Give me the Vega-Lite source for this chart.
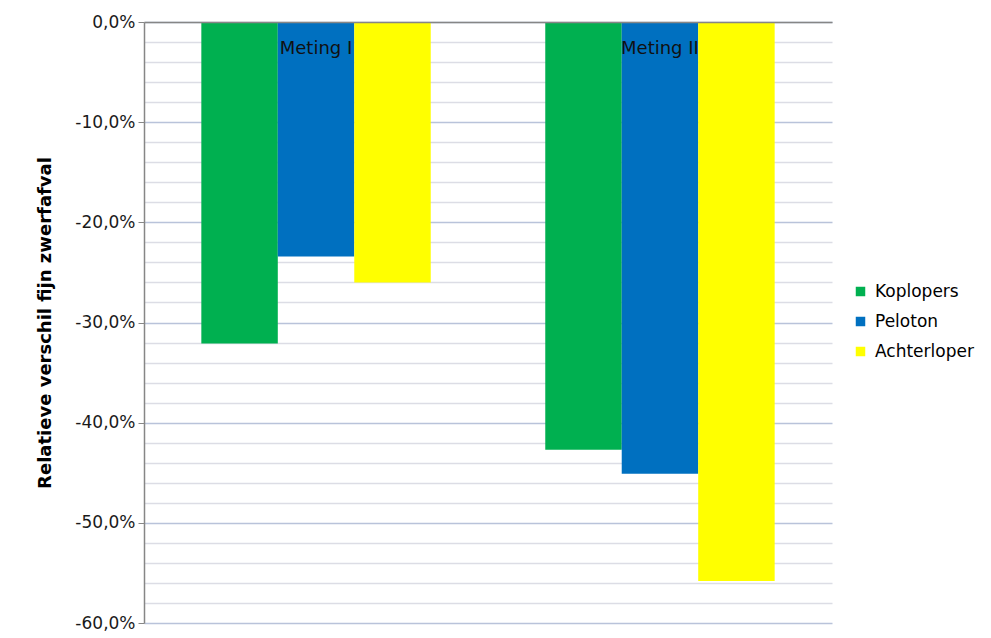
{
  "$schema": "https://vega.github.io/schema/vega-lite/v6.json",
  "width": 688,
  "height": 601,
  "autosize": {"type": "none"},
  "padding": {"left": 144, "top": 22, "right": 159, "bottom": 15},
  "background": "white",
  "config": {
    "locale": {"number": {"decimal": ",", "thousands": ".", "grouping": [3], "currency": ["€", ""], "minus": "-"}},
    "view": {"stroke": null},
    "font": "DejaVu Sans"
  },
  "data": {
    "values": [
      {"meting": "Meting I", "groep": "Koplopers", "waarde": -0.321},
      {"meting": "Meting I", "groep": "Peloton", "waarde": -0.234},
      {"meting": "Meting I", "groep": "Achterloper", "waarde": -0.260},
      {"meting": "Meting II", "groep": "Koplopers", "waarde": -0.427},
      {"meting": "Meting II", "groep": "Peloton", "waarde": -0.451},
      {"meting": "Meting II", "groep": "Achterloper", "waarde": -0.558}
    ]
  },
  "mark": {"type": "bar"},
  "encoding": {
    "x": {
      "field": "meting",
      "type": "nominal",
      "sort": ["Meting I", "Meting II"],
      "scale": {"paddingInner": 0.333, "paddingOuter": 0.1667},
      "axis": {
        "orient": "top",
        "title": null,
        "ticks": false,
        "tickSize": 0,
        "labelAngle": 0,
        "labelBaseline": "alphabetic",
        "labelPadding": -31,
        "labelFontSize": 18,
        "labelColor": "#111111",
        "domainColor": "#868686",
        "domainWidth": 1.5,
        "zindex": 1
      }
    },
    "xOffset": {"field": "groep", "type": "nominal", "sort": ["Koplopers", "Peloton", "Achterloper"]},
    "y": {
      "field": "waarde",
      "type": "quantitative",
      "scale": {"domain": [-0.6, 0], "nice": false, "zero": false},
      "axis": {
        "title": "Relatieve verschil fijn zwerfafval",
        "titleFontSize": 18,
        "titleFontWeight": "bold",
        "titleColor": "#000000",
        "titlePadding": 20,
        "values": [0, -0.02, -0.04, -0.06, -0.08, -0.1, -0.12, -0.14, -0.16, -0.18, -0.2, -0.22, -0.24, -0.26, -0.28, -0.3, -0.32, -0.34, -0.36, -0.38, -0.4, -0.42, -0.44, -0.46, -0.48, -0.5, -0.52, -0.54, -0.56, -0.58, -0.6],
        "format": ".1%",
        "labelExpr": "abs(round(datum.value * 100)) % 10 == 0 ? datum.label : ''",
        "labelFontSize": 17,
        "labelColor": "#1a1a1a",
        "labelPadding": 3,
        "tickSize": 6,
        "tickColor": "#868686",
        "tickOpacity": {"condition": {"test": "abs(round(datum.value * 100)) % 10 == 0", "value": 1}, "value": 0},
        "domainColor": "#868686",
        "domainWidth": 1.5,
        "grid": true,
        "gridColor": {"condition": {"test": "abs(round(datum.value * 100)) % 10 == 0", "value": "#b9c3da"}, "value": "#dcdde5"},
        "gridWidth": 1.5
      }
    },
    "color": {
      "field": "groep",
      "type": "nominal",
      "sort": ["Koplopers", "Peloton", "Achterloper"],
      "scale": {"domain": ["Koplopers", "Peloton", "Achterloper"], "range": ["#00b050", "#0070c0", "#ffff00"]},
      "legend": {
        "title": null,
        "orient": "none",
        "legendX": 708,
        "legendY": 261,
        "symbolType": "square",
        "symbolSize": 90,
        "symbolStrokeWidth": 0,
        "labelFontSize": 17,
        "labelColor": "#000000",
        "labelOffset": 6,
        "rowPadding": 12
      }
    }
  }
}
